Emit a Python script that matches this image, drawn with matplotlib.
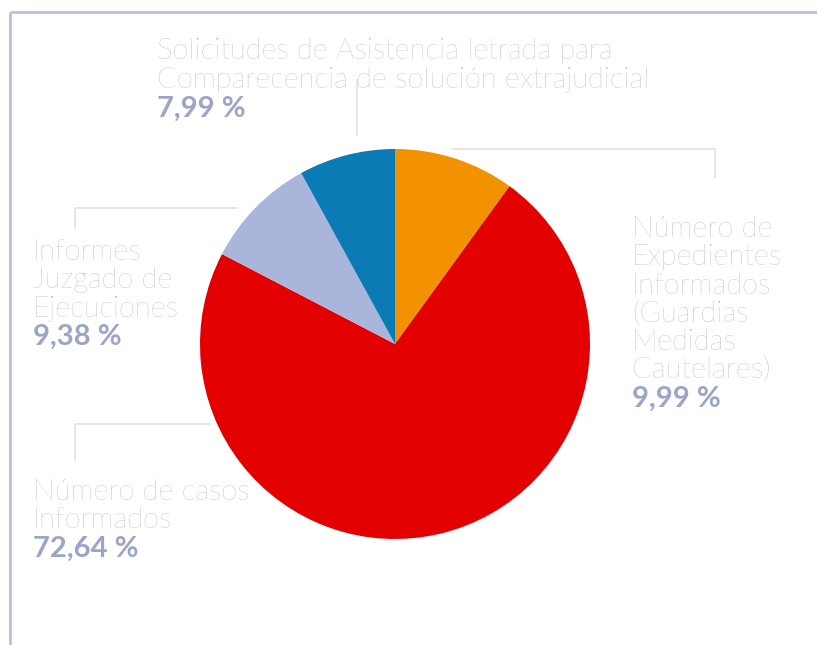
import numpy as np
import matplotlib
matplotlib.use('Agg')
import matplotlib.pyplot as plt

# data
labels = ['Número de Expedientes Informados (Guardias Medidas Cautelares)',
          'Número de casos Informados',
          'Informes Juzgado de Ejecuciones',
          'Solicitudes de Asistencia letrada para Comparecencia de solución extrajudicial']
values = [9.99, 72.64, 9.38, 7.99]
value_text = ['9,99 %', '72,64 %', '9,38 %', '7,99 %']
colors = ['#f39200', '#e30000', '#a9b5da', '#0a7bb5']

W, H = 817, 645
fig = plt.figure(figsize=(W/100, H/100), dpi=100)
ax = fig.add_axes([0, 0, 1, 1])

def Y(y):
    return H - y

ax.pie(values, colors=colors, startangle=90, counterclock=False,
       center=(395, Y(344)), radius=195, frame=True,
       wedgeprops=dict(linewidth=0))
ax.set_xlim(0, W)
ax.set_ylim(0, H)
ax.set_aspect('equal')
ax.axis('off')

# frame
fc = '#bcc0de'
ax.plot([10, W], [Y(12), Y(12)], color=fc, lw=2, solid_capstyle='butt')
ax.plot([10, 10], [Y(12), 0], color=fc, lw=2, solid_capstyle='butt')

# leader lines
lc = '#e2e4ea'
ax.plot([357, 357], [Y(80), Y(135)], color=lc, lw=1.3)
ax.plot([453, 715, 715], [Y(149), Y(149), Y(177)], color=lc, lw=1.3)
ax.plot([237, 75, 75], [Y(208), Y(208), Y(228)], color=lc, lw=1.3)
ax.plot([210, 75, 75], [Y(424), Y(424), Y(460)], color=lc, lw=1.3)

tc = '#a0a6be'
vc = '#9ca4c8'
fam = ['Lato', 'DejaVu Sans']
fs = 21

def block(x, y0, lines, val, step=28.3):
    y = y0
    for ln in lines:
        ax.text(x, Y(y), ln, color=tc, fontsize=fs, family=fam,
                fontweight='light', va='baseline', ha='left')
        y += step
    ax.text(x, Y(y), val, color=vc, fontsize=fs, family=fam,
            fontweight='bold', va='baseline', ha='left')

block(157, 59, ['Solicitudes de Asistencia letrada para',
                'Comparecencia de solución extrajudicial'], value_text[3], step=29)
block(632, 237, ['Número de', 'Expedientes', 'Informados', '(Guardias',
                 'Medidas', 'Cautelares)'], value_text[0])
block(33, 260, ['Informes', 'Juzgado de', 'Ejecuciones'], value_text[2])
block(33, 500, ['Número de casos', 'Informados'], value_text[1], step=28.5)

fig.savefig('out.png', dpi=100)
